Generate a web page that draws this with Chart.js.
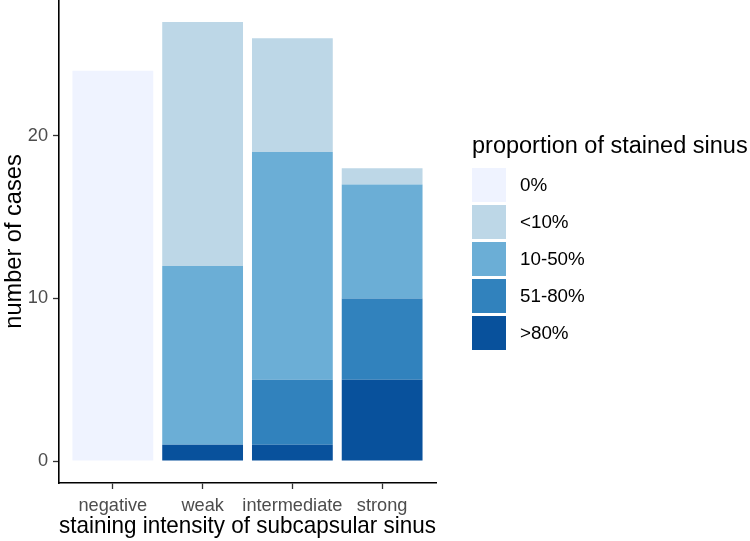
<!DOCTYPE html>
<html>
<head>
<meta charset="utf-8">
<script src="https://cdn.jsdelivr.net/npm/chart.js@4.4.1/dist/chart.umd.min.js"></script>
<style>
  html, body { margin: 0; padding: 0; background: #fff; }
  canvas { display: block; }
</style>
</head>
<body>
<canvas id="c" width="750" height="541"></canvas>
<script>
// ---- data ----
const categories = ['negative', 'weak', 'intermediate', 'strong'];
const seriesNames = ['>80%', '51-80%', '10-50%', '<10%', '0%']; // bottom to top
const gt80   = [0, 1, 1, 5];
const p51_80 = [0, 0, 4, 5];
const p10_50 = [0, 11, 14, 7];
const lt10   = [0, 15, 7, 1];
const zero   = [24, 0, 0, 0];
const yTicks = [0, 10, 20];
const legendTitle = 'proportion of stained sinus';
const xTitle = 'staining intensity of subcapsular sinus';
const yTitle = 'number of cases';

const colors = ['#08519C', '#3182BD', '#6BAED6', '#BDD7E7', '#EFF3FF'];
const seriesValues = [gt80, p51_80, p10_50, lt10, zero];

const FONT = "'Liberation Sans', Arial, sans-serif";

const datasets = seriesValues.map((vals, i) => ({
  label: seriesNames[i],
  data: vals.map((v, j) => ({ x: j + 1, y: v })),
  backgroundColor: colors[i],
  borderWidth: 0,
  barPercentage: 0.9,
  categoryPercentage: 1.0
}));

const legendPlugin = {
  id: 'ggLegend',
  afterDraw(chart) {
    const ctx = chart.ctx;
    ctx.save();
    ctx.fillStyle = '#000';
    ctx.font = `23.5px ${FONT}`;
    ctx.textBaseline = 'alphabetic';
    ctx.textAlign = 'left';
    ctx.fillText(legendTitle, 472, 153);
    const order = [4, 3, 2, 1, 0];
    order.forEach((di, k) => {
      const y = 168 + k * 37;
      ctx.fillStyle = colors[di];
      ctx.fillRect(472, y, 34, 34);
      ctx.fillStyle = '#000';
      ctx.font = `18.8px ${FONT}`;
      ctx.textBaseline = 'middle';
      ctx.fillText(seriesNames[di], 520, y + 17.5);
    });
    ctx.restore();
  }
};

function noPad(s) {
  s.paddingTop = 0; s.paddingBottom = 0; s.paddingLeft = 0; s.paddingRight = 0;
}

new Chart(document.getElementById('c'), {
  type: 'bar',
  data: { datasets },
  plugins: [legendPlugin],
  options: {
    responsive: false,
    animation: false,
    layout: { padding: { left: 0, right: 314, top: 0, bottom: 0 } },
    plugins: { legend: { display: false }, tooltip: { enabled: false } },
    scales: {
      x: {
        type: 'linear',
        stacked: true,
        offset: false,
        min: 0.4,
        max: 4.6,
        afterBuildTicks: (s) => { s.ticks = categories.map((c, i) => ({ value: i + 1 })); },
        afterFit: (s) => { s.height = 58; noPad(s); },
        ticks: {
          autoSkip: false,
          maxRotation: 0,
          padding: 6,
          color: '#4d4d4d',
          font: { family: FONT, size: 18.2 },
          callback: (v) => categories[Math.round(v) - 1]
        },
        grid: { display: true, offset: false, drawOnChartArea: false, drawTicks: true, tickLength: 6, tickColor: '#333', tickWidth: 1.3 },
        border: { display: true, color: '#000', width: 1.6 },
        title: { display: true, text: xTitle, color: '#000', font: { family: FONT, size: 23.6 }, padding: { top: 0, bottom: 0 } }
      },
      y: {
        type: 'linear',
        stacked: true,
        min: -1.35,
        max: 28.35,
        afterBuildTicks: (s) => { s.ticks = yTicks.map(v => ({ value: v })); },
        afterFit: (s) => { s.width = 59; noPad(s); },
        ticks: {
          padding: 5,
          color: '#4d4d4d',
          font: { family: FONT, size: 18.2 }
        },
        grid: { display: true, drawOnChartArea: false, drawTicks: true, tickLength: 6, tickColor: '#333', tickWidth: 1.3 },
        border: { display: true, color: '#000', width: 1.6 },
        title: { display: true, text: yTitle, color: '#000', font: { family: FONT, size: 23.6 }, padding: { top: 0, bottom: 0 } }
      }
    }
  }
});
</script>
</body>
</html>
